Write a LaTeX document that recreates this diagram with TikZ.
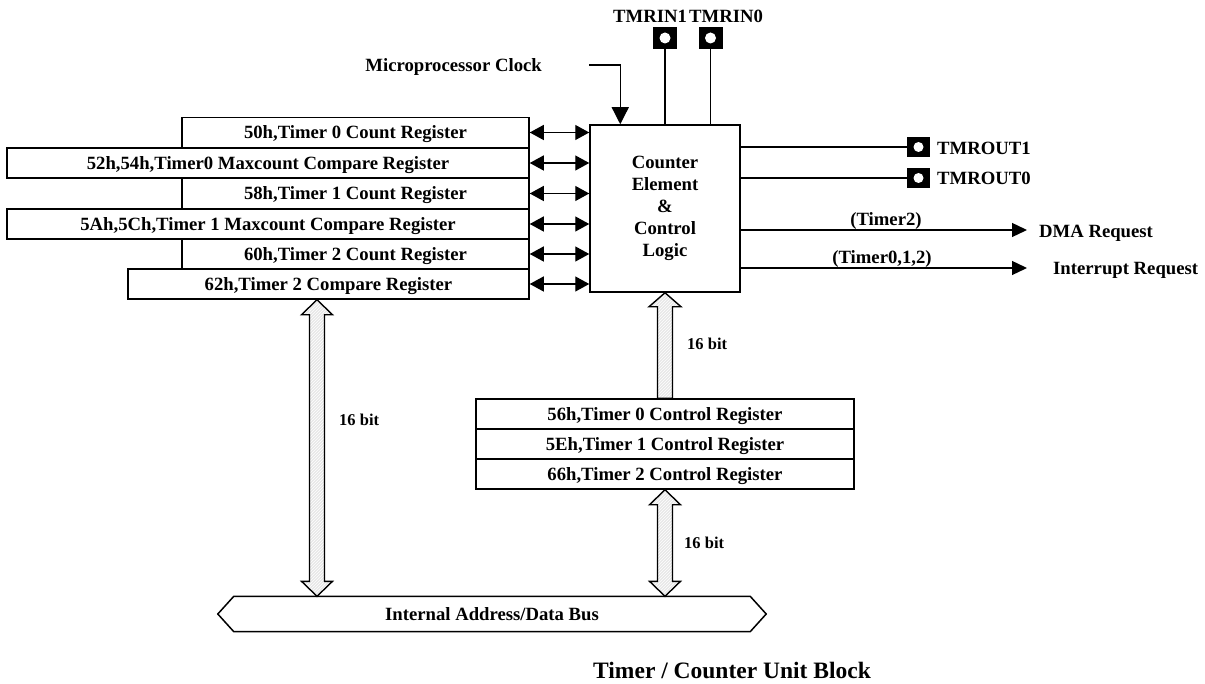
\documentclass[tikz,border=0pt]{standalone}
\usepackage{fontspec}
\setmainfont{Liberation Serif}
\usetikzlibrary{arrows.meta,patterns,calc}
\newcommand{\BusDbl}[2]{%
  \draw[busarrow] (#1) -- ++(15.5,15) -- ++(-8,0) -- ($(#2)+(7.5,-15)$) -- ++(8,0) -- (#2)
    -- ++(-15.5,-15) -- ++(8,0) -- ($(#1)+(-7.5,15)$) -- ++(-8,0) -- cycle;}
\begin{document}
\begin{tikzpicture}[x=1pt,y=-1pt,
  every node/.style={font=\bfseries\fontsize{18.7}{22}\selectfont, inner sep=0pt},
  reg/.style={draw, line width=1.5pt, minimum height=30pt, text height=12.5pt, text depth=0pt},
  lbl/.style={text height=12.5pt, text depth=0pt},
  small/.style={lbl, font=\bfseries\fontsize{16.5}{20}\selectfont, text height=11pt},
  link/.style={line width=1.3pt},
  dbl/.style={link, {Triangle[length=14pt,width=15pt]}-{Triangle[length=14pt,width=15pt]}},
  outarrow/.style={link, -{Triangle[length=15pt,width=14pt]}},
  pin/.style={fill=black, minimum width=24pt, minimum height=22pt},
  hole/.style={circle, fill=white, minimum size=11pt},
  busarrow/.style={draw, line width=1.4pt, preaction={fill=gray!18}, pattern=north east lines, pattern color=white},
]
\useasboundingbox (0,0) rectangle (1205,684);

% left register stack
\node[reg, minimum width=347pt] (r1) at (355.5,132.5) {50h,Timer 0 Count Register};
\node[reg, minimum width=522pt] (r2) at (268,163) {52h,54h,Timer0 Maxcount Compare Register};
\node[reg, minimum width=347pt] (r3) at (355.5,193.5) {58h,Timer 1 Count Register};
\node[reg, minimum width=522pt] (r4) at (268,224) {5Ah,5Ch,Timer 1 Maxcount Compare Register};
\node[reg, minimum width=347pt] (r5) at (355.5,254) {60h,Timer 2 Count Register};
\node[reg, minimum width=401pt] (r6) at (328.5,284) {62h,Timer 2 Compare Register};

% counter element
\node[draw, line width=1.5pt, minimum width=150pt, minimum height=167pt, align=center] (ctrl) at (665,208.5)
  {Counter\\Element\\\&\\Control\\Logic};

\foreach \r in {r1,r2,r3,r4,r5,r6} \draw[dbl] (\r.east) -- (\r.east -| ctrl.west);

% clock
\node[lbl, anchor=east] (clktext) at (542,65) {Microprocessor Clock};
\coordinate (clk) at (589,65);
\draw[link, -{Triangle[length=17pt,width=17pt]}] (clk) -| ([xshift=31pt]ctrl.north west);

% input pins
\node[pin] (in1) at (665,38) {};
\node[hole] (in1h) at (in1.center) {};
\node[pin] (in0) at (710.5,38) {};
\node[hole] (in0h) at (in0.center) {};
\draw[link] (in1.south) -- (in1.south |- ctrl.north);
\draw[link] (in0.south) -- (in0.south |- ctrl.north);
\node[lbl] (tin1) at (650,16) {TMRIN1};
\node[lbl] (tin0) at (726,16) {TMRIN0};

% output pins
\node[pin, minimum width=23pt, minimum height=20pt] (o1) at (918.5,147) {};
\node[hole, minimum size=10pt] (o1h) at (o1.center) {};
\node[pin, minimum width=23pt, minimum height=20pt] (o0) at (918.5,178) {};
\node[hole, minimum size=10pt] (o0h) at (o0.center) {};
\draw[link] (ctrl.east |- o1) -- (o1.west);
\draw[link] (ctrl.east |- o0) -- (o0.west);
\node[lbl, anchor=west] (to1) at (937,148) {TMROUT1};
\node[lbl, anchor=west] (to0) at (937,178) {TMROUT0};

% requests
\coordinate (dma) at (1027,230);
\coordinate (irq) at (1027,268);
\draw[outarrow] (ctrl.east |- dma) -- (dma);
\draw[outarrow] (ctrl.east |- irq) -- (irq);
\node[lbl] (t2) at (886,219) {(Timer2)};
\node[lbl] (t012) at (882,257) {(Timer0,1,2)};
\node[lbl, anchor=west] (dmat) at (1039,231) {DMA Request};
\node[lbl, anchor=west] (irqt) at (1053,268) {Interrupt Request};

% control registers
\node[reg, minimum width=378pt] (c0) at (665,414) {56h,Timer 0 Control Register};
\node[reg, minimum width=378pt] (c1) at (665,444) {5Eh,Timer 1 Control Register};
\node[reg, minimum width=378pt] (c2) at (665,474) {66h,Timer 2 Control Register};

% bus
\node[lbl, minimum width=516pt, minimum height=35pt] (bus) at (492,614) {Internal Address/Data Bus};
\draw[line width=1.5pt] (bus.north west) -- (bus.north east) -- ([xshift=16pt]bus.east) -- (bus.south east)
  -- (bus.south west) -- ([xshift=-16pt]bus.west) -- cycle;

% wide bus arrows
\coordinate (lx) at (317,0);
\BusDbl{r6.south -| lx}{lx |- bus.north}
\BusDbl{c2.south}{c2.south |- bus.north}
\draw[busarrow] ($(c0.north)+(-7.5,0)$) -- ($(ctrl.south)+(-7.5,14)$) -- ++(-8.5,0) -- (ctrl.south)
  -- ($(ctrl.south)+(16,14)$) -- ++(-8.5,0) -- ($(c0.north)+(7.5,0)$) -- cycle;

\node[small, anchor=west] (b1) at (339,420) {16 bit};
\node[small, anchor=west] (b2) at (687,344) {16 bit};
\node[small, anchor=west] (b3) at (684,543) {16 bit};

% title
\node[anchor=west, font=\bfseries\fontsize{23.5}{28}\selectfont, text height=16pt, text depth=0pt] (title) at (593,670)
  {Timer / Counter Unit Block};
\end{tikzpicture}
\end{document}
